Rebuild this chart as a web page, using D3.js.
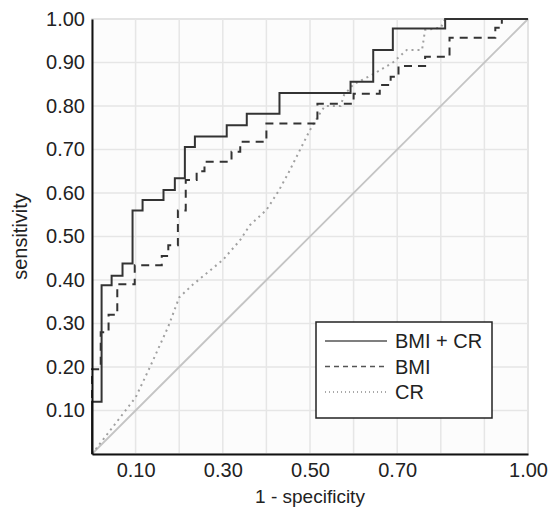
<!DOCTYPE html>
<html>
<head>
<meta charset="utf-8">
<script src="https://cdn.jsdelivr.net/npm/d3@7"></script>
<style>
  html, body { margin: 0; padding: 0; background: #ffffff; }
  svg { display: block; font-family: Arial, "Liberation Sans", sans-serif; }
</style>
</head>
<body>
<svg id="chart" width="558" height="514"></svg>
<script>
// ---- data ----
const seriesNames = ["BMI + CR", "BMI", "CR"];

// BMI + CR (step ROC curve, points after each step)
const bmiCrFpr = [0, 0, 0.022, 0.045, 0.07, 0.093, 0.116, 0.164, 0.19, 0.213, 0.236, 0.309, 0.355, 0.43, 0.593, 0.645, 0.69, 0.81, 1.0];
const bmiCrTpr = [0, 0.12, 0.388, 0.41, 0.438, 0.56, 0.584, 0.607, 0.634, 0.706, 0.73, 0.756, 0.782, 0.83, 0.856, 0.929, 0.978, 1.0, 1.0];

// BMI (step ROC curve)
const bmiFpr = [0, 0, 0.02, 0.038, 0.058, 0.098, 0.16, 0.175, 0.197, 0.215, 0.24, 0.258, 0.32, 0.34, 0.4, 0.517, 0.6, 0.66, 0.685, 0.703, 0.764, 0.82, 0.925, 0.94, 1.0];
const bmiTpr = [0, 0.195, 0.28, 0.32, 0.39, 0.434, 0.455, 0.48, 0.56, 0.63, 0.65, 0.672, 0.695, 0.718, 0.76, 0.805, 0.828, 0.848, 0.867, 0.892, 0.913, 0.957, 0.98, 1.0, 1.0];

// CR (smooth-ish ROC curve)
const crFpr = [0, 0.1, 0.133, 0.175, 0.2, 0.232, 0.3, 0.34, 0.362, 0.4, 0.427, 0.45, 0.5, 0.527, 0.535, 0.57, 0.578, 0.6, 0.645, 0.69, 0.722, 0.757, 0.764, 0.8, 0.81, 1.0];
const crTpr = [0, 0.13, 0.2, 0.293, 0.36, 0.39, 0.446, 0.492, 0.526, 0.561, 0.603, 0.645, 0.745, 0.79, 0.8, 0.8, 0.825, 0.85, 0.873, 0.9, 0.929, 0.929, 0.975, 0.98, 1.0, 1.0];

const gridValues = [0.1, 0.2, 0.3, 0.4, 0.5, 0.6, 0.7, 0.8, 0.9];
const xTickValues = [0.1, 0.3, 0.5, 0.7, 1.0];
const yTickValues = [0.1, 0.2, 0.3, 0.4, 0.5, 0.6, 0.7, 0.8, 0.9, 1.0];
const xLabel = "1 - specificity";
const yLabel = "sensitivity";

// ---- layout ----
const svg = d3.select("#chart");
const pL = 92, pT = 19, pR = 528, pB = 454;

const x = d3.scaleLinear().domain([0, 1]).range([pL, pR]);
const y = d3.scaleLinear().domain([0, 1]).range([pB, pT]);

// plot background
svg.append("rect")
  .attr("x", pL).attr("y", pT)
  .attr("width", pR - pL).attr("height", pB - pT)
  .attr("fill", "#fcfcfc")
  .attr("stroke", "#dcdcdc").attr("stroke-width", 1.5);

// grid
const grid = svg.append("g");
grid.selectAll("line.v").data(gridValues).join("line")
  .attr("class", "v")
  .attr("x1", d => x(d)).attr("x2", d => x(d))
  .attr("y1", pT).attr("y2", pB)
  .attr("stroke", "#e6e6e6").attr("stroke-width", 1.5);
grid.selectAll("line.h").data(gridValues).join("line")
  .attr("class", "h")
  .attr("y1", d => y(d)).attr("y2", d => y(d))
  .attr("x1", pL).attr("x2", pR)
  .attr("stroke", "#e6e6e6").attr("stroke-width", 1.5);

// diagonal reference
svg.append("line")
  .attr("x1", x(0)).attr("y1", y(0))
  .attr("x2", x(1)).attr("y2", y(1))
  .attr("stroke", "#c4c4c4").attr("stroke-width", 1.8);

// curves
const toPts = (xs, ys) => xs.map((v, i) => [v, ys[i]]);
const stepLine = d3.line().x(d => x(d[0])).y(d => y(d[1])).curve(d3.curveStepAfter);
const linLine = d3.line().x(d => x(d[0])).y(d => y(d[1]));

svg.append("path")
  .attr("d", linLine(toPts(crFpr, crTpr)))
  .attr("fill", "none").attr("stroke", "#a0a0a0")
  .attr("stroke-width", 2).attr("stroke-dasharray", "2,4");

svg.append("path")
  .attr("d", stepLine(toPts(bmiFpr, bmiTpr)))
  .attr("fill", "none").attr("stroke", "#333")
  .attr("stroke-width", 2).attr("stroke-dasharray", "8,6");

svg.append("path")
  .attr("d", stepLine(toPts(bmiCrFpr, bmiCrTpr)))
  .attr("fill", "none").attr("stroke", "#333")
  .attr("stroke-width", 2);

// axes
const xAxis = d3.axisBottom(x).tickValues(xTickValues).tickFormat(d3.format(".2f")).tickSize(0).tickPadding(9);
const yAxis = d3.axisLeft(y).tickValues(yTickValues).tickFormat(d3.format(".2f")).tickSize(0).tickPadding(7);

const gx = svg.append("g").attr("transform", `translate(0,${pB})`).call(xAxis);
const gy = svg.append("g").attr("transform", `translate(${pL},0)`).call(yAxis);
[gx, gy].forEach(g => {
  g.select(".domain").attr("stroke", "#111").attr("stroke-width", 2);
  g.selectAll("text").attr("font-size", 20).attr("fill", "#222")
    .attr("font-family", "Arial, 'Liberation Sans', sans-serif");
});

// axis titles
svg.append("text")
  .attr("x", x(0.5)).attr("y", 503)
  .attr("text-anchor", "middle").attr("font-size", 19).attr("fill", "#222")
  .text(xLabel);
svg.append("text")
  .attr("transform", `translate(27,${y(0.5)}) rotate(-90)`)
  .attr("text-anchor", "middle").attr("font-size", 20).attr("fill", "#222")
  .text(yLabel);

// legend
const lg = svg.append("g");
lg.append("rect")
  .attr("x", 316).attr("y", 322).attr("width", 176).attr("height", 96)
  .attr("fill", "#ffffff").attr("stroke", "#222").attr("stroke-width", 1.5);
const legendStyles = [
  { dash: null, color: "#555", w: 1.5 },
  { dash: "5,4", color: "#555", w: 1.5 },
  { dash: "1,3", color: "#555", w: 1.2 }
];
seriesNames.forEach((name, i) => {
  const yy = 341 + i * 25.5;
  lg.append("line")
    .attr("x1", 325).attr("x2", 387).attr("y1", yy).attr("y2", yy)
    .attr("stroke", legendStyles[i].color).attr("stroke-width", legendStyles[i].w)
    .attr("stroke-dasharray", legendStyles[i].dash);
  lg.append("text")
    .attr("x", 395).attr("y", yy + 7)
    .attr("font-size", 20).attr("fill", "#222")
    .text(name);
});
</script>
</body>
</html>
